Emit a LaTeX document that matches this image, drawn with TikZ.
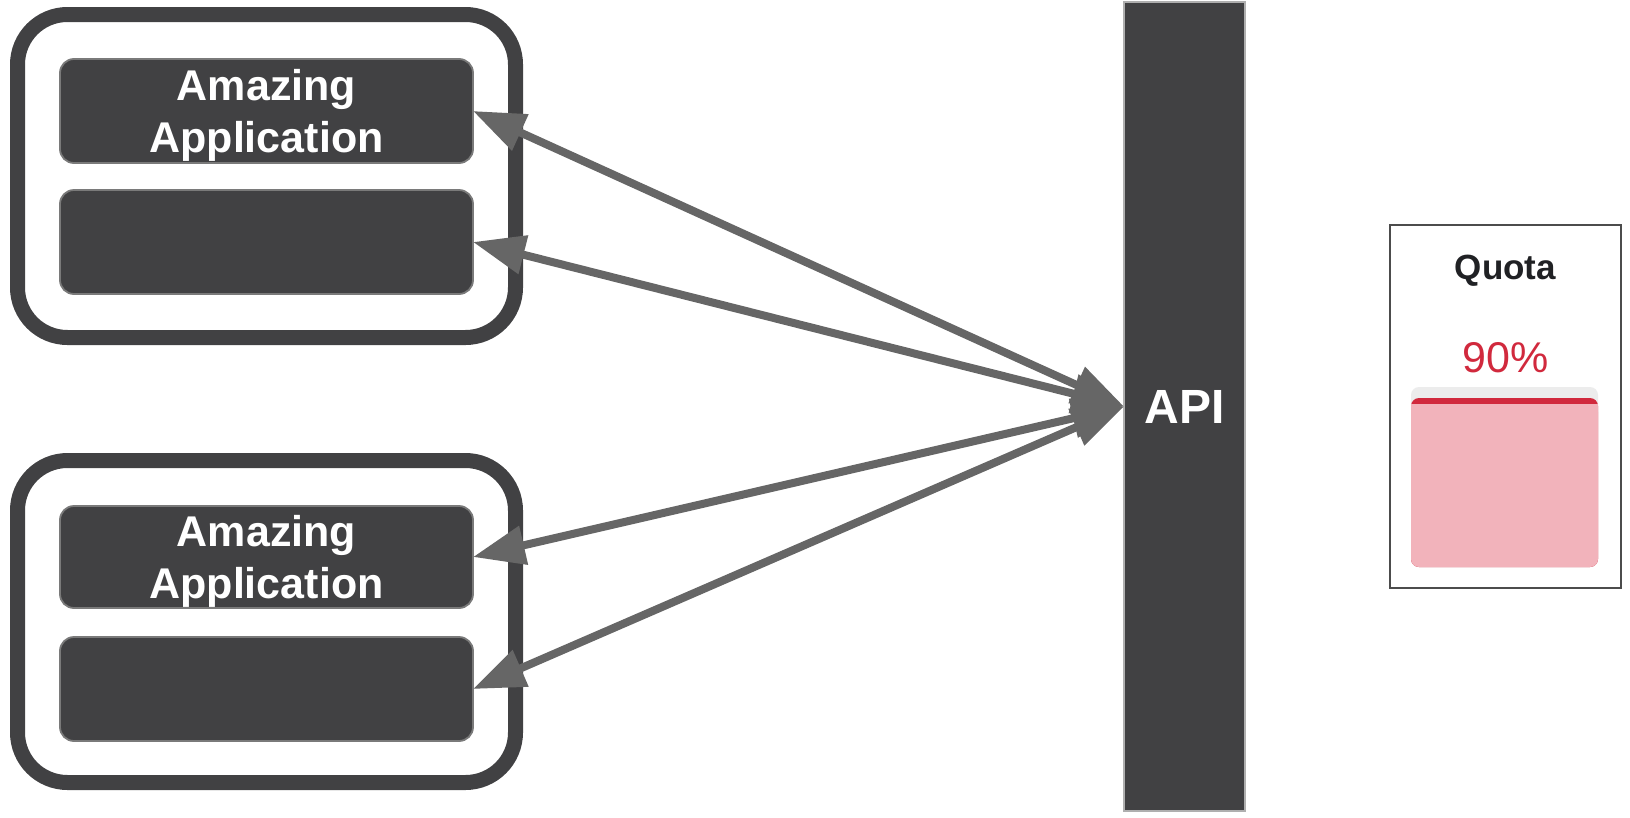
\documentclass[tikz,border=0pt]{standalone}
\usepackage{fontspec}
\setmainfont{Liberation Sans}
\usetikzlibrary{arrows.meta}
\definecolor{darkbox}{HTML}{414143}
\definecolor{boxedge}{HTML}{7A7A7A}
\definecolor{arrowgray}{HTML}{666666}
\definecolor{quotared}{HTML}{D1293D}
\definecolor{quotapink}{HTML}{F2B3BB}
\definecolor{quotagray}{HTML}{ECECEC}
\definecolor{quotatext}{HTML}{202124}
\tikzset{
  outerbox/.style={draw=darkbox, line width=15pt, rounded corners=50pt, fill=white,
    minimum width=498pt, inner sep=0pt, outer sep=0pt},
  appbox/.style={draw=boxedge, line width=1.8pt, fill=darkbox, rounded corners=14pt,
    minimum width=413pt, minimum height=104pt, inner sep=0pt, outer sep=0pt},
  apptext/.style={text=white, align=center, inner sep=0pt,
    font=\bfseries\fontsize{43}{52}\selectfont},
  apibar/.style={draw=boxedge!60, line width=1.5pt, fill=darkbox, minimum width=121pt,
    minimum height=809pt, inner sep=0pt, outer sep=0pt, text=white,
    font=\bfseries\fontsize{48}{52}\selectfont},
  conn/.style={draw=arrowgray, line width=8pt,
    {Triangle[length=52pt,width=38pt]}-{Triangle[length=52pt,width=38pt]}},
}
\begin{document}
\begin{tikzpicture}[x=1pt,y=-1pt]
\useasboundingbox (0,0) rectangle (1630,817);
% containers
\node[outerbox, minimum height=323pt] (c1) at (266.5,176) {};
\node[outerbox, minimum height=322pt] (c2) at (266.5,621.5) {};
% application boxes
\node[appbox] (a1) at (266.5,111) {};
\node[appbox] (a2) at (266.5,242) {};
\node[appbox, minimum height=102pt] (a3) at (266.5,557) {};
\node[appbox] (a4) at (266.5,689) {};
\node[apptext] (t1) at ([yshift=-4pt]a1.center) {Amazing\\Application};
\node[apptext] (t3) at ([yshift=-4pt]a3.center) {Amazing\\Application};
% API
\node[apibar] (api) at (1184.5,406.5) {API};
% connectors
\draw[conn] (a1.east) -- (api.west);
\draw[conn] (a2.east) -- (api.west);
\draw[conn] (a3.east) -- (api.west);
\draw[conn] (a4.east) -- (api.west);
% quota card
\node[draw=black!70, line width=2pt, fill=white, minimum width=231pt, minimum height=363pt,
  inner sep=0pt, outer sep=0pt] (qcard) at (1505.5,406.5) {};
\fill[quotagray, rounded corners=8pt] (1411,387) rectangle (1598,567);
\fill[quotared, rounded corners=8pt] (1411,398) rectangle (1598,567);
\fill[quotapink, rounded corners=8pt] (1411,404) rectangle (1598,567);
\fill[quotapink] (1411,404) rectangle (1598,430);
\node[anchor=base, text=quotatext, font=\bfseries\fontsize{35}{38}\selectfont] (qlabel) at (1505.5,279) {Quota};
\node[anchor=base, text=quotared, font=\fontsize{43}{46}\selectfont] (qvalue) at (1505.5,372) {90\%};
\end{tikzpicture}
\end{document}
